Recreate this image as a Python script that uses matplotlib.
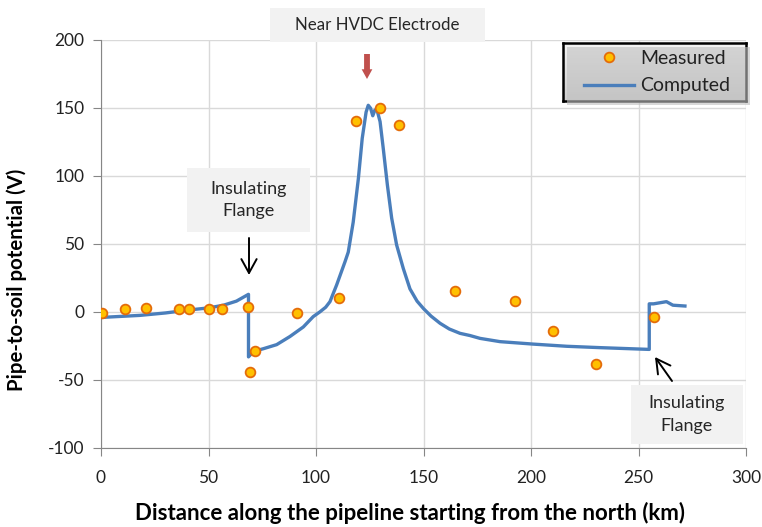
import numpy as np
import matplotlib.pyplot as plt
from matplotlib.patches import Rectangle
from matplotlib.colors import LinearSegmentedColormap

plt.rcParams['font.family'] = ['Lato', 'DejaVu Sans']
plt.rcParams['axes.unicode_minus'] = False

# measured points
meas_x = [0.5, 11, 21, 36.4, 41, 50.2, 56.4, 68.6, 69.2, 71.6, 91, 110.9,
          118.4, 129.8, 138.4, 164.5, 192.6, 210, 230, 257.2]
meas_y = [-1, 2, 3, 2, 2, 2, 2, 4, -44.3, -29, -1, 10,
          140.5, 149.8, 137.5, 15.4, 8.3, -14.2, -38.2, -3.9]

# computed curve
comp_x = [0, 18, 30, 41, 50, 57, 63, 68.6, 68.6, 70.9, 75.5, 81.7, 84.8, 87.9,
          91, 94.1, 98.7, 101.9, 104.5, 106.5, 109.6, 113.5, 115, 117.3, 119.7,
          121.5, 123.3, 124.3, 125.4, 126.4, 127.4, 128.5, 129.8, 131.3, 133.2,
          135.2, 137.5, 140.6, 143.7, 147, 150, 153.5, 157.7, 162, 167, 171.6,
          176.3, 185.6, 201, 216.6, 232, 255, 255, 257, 263, 266, 271.6]
comp_y = [-4, -2.5, -0.7, 1.5, 3, 5, 8, 13, -33, -29, -27, -24, -21, -18,
          -14.5, -11, -3.4, 0.2, 3.5, 7.6, 19.9, 37, 44, 66, 98,
          127.7, 147, 152, 149.8, 144.3, 148.5, 147.8, 140, 120, 93.4,
          69, 49.3, 32, 17, 8, 2.5, -3, -8.3, -12.5, -15.7, -17.3,
          -19.4, -21.8, -23.6, -25.2, -26.2, -27.5, 6, 6, 7.6, 5, 4.4]

W, H = 762, 527
fig = plt.figure(figsize=(W / 100, H / 100), dpi=100)


def fx(px):
    return px / W


def fy(py):
    return 1 - py / H


ax = fig.add_axes([fx(101), fy(448), fx(746) - fx(101), fy(40) - fy(448)])

ax.plot(comp_x, comp_y, color='#4A7EBB', lw=2.4, zorder=3, label='Computed',
        solid_joinstyle='round')
ax.plot(meas_x, meas_y, 'o', ms=7, mfc='#FFC000', mec='#E46C0A', mew=1.3,
        zorder=4, label='Measured')

ax.set_xlim(0, 300)
ax.set_ylim(-100, 200)
ax.set_xticks(np.arange(0, 301, 50))
ax.set_yticks(np.arange(-100, 201, 50))
ax.grid(True, color='#D9D9D9', lw=1)
ax.set_axisbelow(True)
for s in ['top', 'right']:
    ax.spines[s].set_visible(False)
for s in ['left', 'bottom']:
    ax.spines[s].set_color('#868686')
ax.tick_params(colors='#868686', labelcolor='#222222', labelsize=12.5, length=6)
ax.tick_params(axis='y', pad=6)
ax.tick_params(axis='x', pad=10)

ax.set_xlabel('Distance along the pipeline starting from the north (km)',
              fontsize=16, fontweight='bold', va='center')
ax.xaxis.set_label_coords(0.479, -0.159)
ax.set_ylabel('Pipe-to-soil potential (V)', fontsize=14.7, fontweight='bold',
              va='center')
ax.yaxis.set_label_coords(-0.130, 0.412)


# boxes with text
def text_box(x0, y0, x1, y1, txt, size):
    fig.patches.append(Rectangle((fx(x0), fy(y1)), fx(x1) - fx(x0), fy(y0) - fy(y1),
                                 transform=fig.transFigure, facecolor='#F2F2F2',
                                 edgecolor='none', zorder=2))
    fig.text(fx((x0 + x1) / 2), fy((y0 + y1) / 2), txt, ha='center', va='center',
             fontsize=size, color='#262626', linespacing=1.5, zorder=3)


text_box(270, 8, 485, 42, 'Near HVDC Electrode', 12.2)
text_box(187, 168, 310, 232, 'Insulating\nFlange', 13)
text_box(631, 385, 743, 444, 'Insulating\nFlange', 13)

# arrows
black_arrow = dict(arrowstyle='->,head_length=1.0,head_width=0.55',
                   color='black', lw=1.4, shrinkA=0, shrinkB=0)
ax.annotate('', xy=(249, H - 275), xytext=(249, H - 238), xycoords='figure pixels',
            textcoords='figure pixels', arrowprops=black_arrow)
ax.annotate('', xy=(655, H - 357), xytext=(672, H - 381), xycoords='figure pixels',
            textcoords='figure pixels', arrowprops=black_arrow)
ax.annotate('', xy=(367, H - 79), xytext=(367, H - 54), xycoords='figure pixels',
            textcoords='figure pixels',
            arrowprops=dict(arrowstyle='simple,head_length=0.5,head_width=0.55,tail_width=0.3',
                            mutation_scale=14, color='#C0504D', lw=0,
                            shrinkA=0, shrinkB=0))

# legend box with shadow and gradient
fig.patches.append(Rectangle((fx(567), fy(105)), fx(746) - fx(563), fy(43) - fy(101),
                             transform=fig.transFigure, facecolor='#BFBFBF',
                             edgecolor='none', alpha=0.6, zorder=1))
lax = fig.add_axes([fx(563), fy(101), fx(746) - fx(563), fy(43) - fy(101)], zorder=1)
grad = np.linspace(0, 1, 50).reshape(-1, 1)
lax.imshow(grad, aspect='auto', extent=[0, 1, 0, 1],
           cmap=LinearSegmentedColormap.from_list('g', ['#F4F4F4', '#CDCDCD']))
lax.set_xticks([])
lax.set_yticks([])
for s in lax.spines.values():
    s.set_color('black')
    s.set_linewidth(1.8)

h, l = ax.get_legend_handles_labels()
leg = fig.legend([h[1], h[0]], [l[1], l[0]], loc='center',
                 bbox_to_anchor=(fx(568), fy(101), fx(746) - fx(568), fy(43) - fy(101)),
                 frameon=False, fontsize=14, handlelength=2.6, labelspacing=0.55,
                 handletextpad=0.3)
for t in leg.get_texts():
    t.set_color('#222222')

fig.savefig('out.png', dpi=100)
